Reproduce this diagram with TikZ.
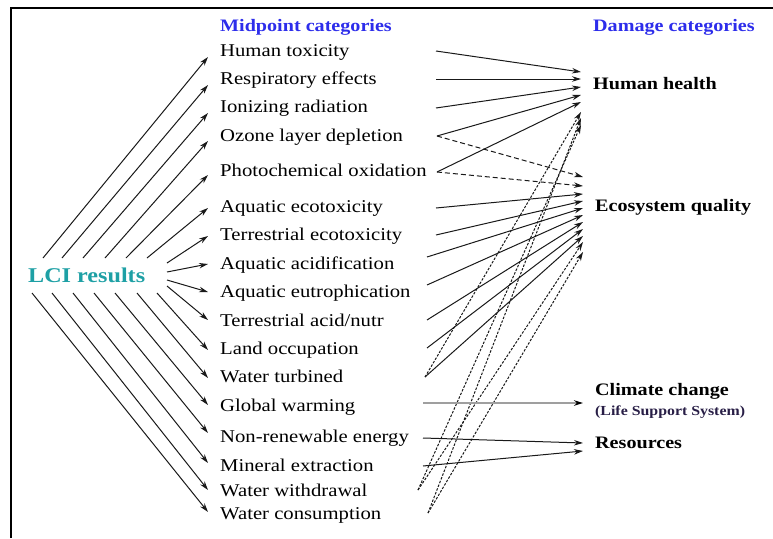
\documentclass[tikz,border=0pt]{standalone}
\usepackage{fontspec}
\setmainfont[FakeStretch=1.15]{Liberation Serif}
\usetikzlibrary{positioning,arrows.meta}
\definecolor{headblue}{RGB}{45,45,235}
\definecolor{lciteal}{RGB}{30,160,165}
\definecolor{subnavy}{RGB}{40,30,70}

\begin{document}
\begin{tikzpicture}[x=1pt, y=-1pt, >={Stealth[length=9pt,width=5.5pt]},
    mid/.style={anchor=west, inner xsep=12pt, inner ysep=0pt, text height=12pt, text depth=4pt,
        font=\fontsize{18}{20}\selectfont},
    dmg/.style={anchor=west, inner xsep=12pt, inner ysep=0pt, text height=12pt, text depth=4pt,
        font=\fontsize{17.5}{20}\selectfont\bfseries},
    head/.style={anchor=west, inner sep=0pt, text=headblue, font=\fontsize{17.5}{20}\selectfont\bfseries},
    link/.style={->, line width=1pt, black!90},
    oldlink/.style={link, dash pattern=on 5pt off 3pt},
    wlink/.style={link, dash pattern=on 2.5pt off 1.5pt}]

    % Frame
    \useasboundingbox (0,0) rectangle (773,538);
    \draw[line width=2pt] (11,538) -- (11,8) -- (773,8);

    % Headers
    \node[head] (hmid) at (220,27) {Midpoint categories};
    \node[head] (hdmg) at (593,27) {Damage categories};

    % Inventory
    \node[anchor=west, inner sep=0pt, text=lciteal, font=\fontsize{21}{23}\selectfont\bfseries]
        (lci) at (28,275) {LCI results};

    % Midpoint categories
    \node[mid] (m1)  at (208,52)  {Human toxicity};
    \node[mid] (m2)  at (208,80)  {Respiratory effects};
    \node[mid] (m3)  at (208,108) {Ionizing radiation};
    \node[mid] (m4)  at (208,137) {Ozone layer depletion};
    \node[mid] (m5)  at (208,172) {Photochemical oxidation};
    \node[mid] (m6)  at (208,208) {Aquatic ecotoxicity};
    \node[mid] (m7)  at (208,236) {Terrestrial ecotoxicity};
    \node[mid] (m8)  at (208,265) {Aquatic acidification};
    \node[mid] (m9)  at (208,293) {Aquatic eutrophication};
    \node[mid] (m10) at (208,322) {Terrestrial acid/nutr};
    \node[mid] (m11) at (208,350) {Land occupation};
    \node[mid] (m12) at (208,378) {Water turbined};
    \node[mid] (m13) at (208,407) {Global warming};
    \node[mid] (m14) at (208,438) {Non-renewable energy};
    \node[mid] (m15) at (208,467) {Mineral extraction};
    \node[mid] (m16) at (208,492) {Water withdrawal};
    \node[mid] (m17) at (208,515) {Water consumption};

    % Damage categories
    \node[dmg] (dh) at (581,85)  {Human health};
    \node[dmg] (de) at (583,207) {Ecosystem quality};
    \node[dmg] (dc) at (583,391) {Climate change};
    \node[dmg, below right=7pt and 0pt of dc.south west, text=subnavy, text height=9pt, text depth=3pt,
        font=\fontsize{13.8}{15}\selectfont\bfseries] (dcs) {(Life Support System)};
    \node[dmg] (dr) at (583,444) {Resources};

    % LCI results -> midpoints
    \foreach \i/\sx/\sy/\dy in {1/43/258/-5pt, 2/62/258/-5pt, 3/83/258/-5pt, 4/105/258/-4pt,
        5/126/258/-3pt, 6/147/258/0pt, 7/167/263/0pt, 8/167/272/1pt, 9/167/280/1pt,
        10/167/286/2pt, 11/157/293/0pt, 12/137/293/0pt, 13/115/293/2pt, 14/94/293/5pt,
        15/73/293/4pt, 16/52/293/2pt, 17/32/293/3pt}
    {
        \coordinate (l\i) at (\sx,\sy);
        \draw[link] (l\i) -- ([yshift=\dy]m\i.west);
    }

    % Start points on the right of the midpoints
    \foreach \i/\ox/\oy in {1/436/51, 2/436/79, 3/436/108, 4/437/136, 5/437/172, 6/436/208,
        7/436/235, 8/427/257, 9/427/285, 10/427/320, 11/427/348, 12/425/377, 13/423/403,
        14/423/438, 15/423/466, 16/418/490, 17/428/513}
        \coordinate (o\i) at (\ox,\oy);

    % Human health
    \foreach \i/\dy in {1/13pt, 2/6pt, 3/-2pt, 4/-10pt, 5/-17pt}
        \draw[link] (o\i) -- ([yshift=\dy]dh.west);
    \foreach \i/\dy in {12/-27pt, 17/-33pt, 16/-40pt}
        \draw[wlink] (o\i) -- ([yshift=\dy]dh.west);

    % Ecosystem quality
    \draw[oldlink] (o4) -- ([yshift=30pt]de.west);
    \draw[oldlink] (o5) -- ([yshift=21pt]de.west);
    \foreach \i/\dy in {6/13pt, 7/6pt, 8/-1pt, 9/-8pt, 10/-15pt, 11/-22pt, 12/-29pt}
        \draw[link] (o\i) -- ([yshift=\dy]de.west);
    \foreach \i/\dy in {16/-35pt, 17/-45pt}
        \draw[wlink] (o\i) -- ([yshift=\dy]de.west);

    % Climate change
    \draw[line width=1.8pt, gray!75, -{Stealth[length=9pt,width=5.5pt,black]}] (o13) -- ([yshift=-12pt]dc.west);

    % Resources
    \draw[link] (o14) -- ([yshift=1pt]dr.west);
    \draw[link] (o15) -- ([yshift=-7pt]dr.west);

\end{tikzpicture}
\end{document}
